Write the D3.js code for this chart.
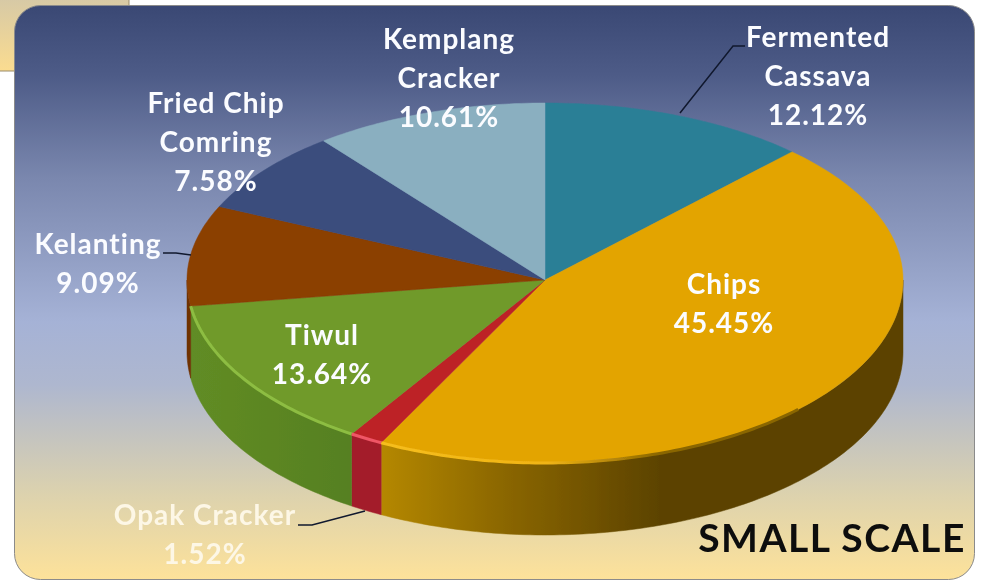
<!DOCTYPE html>
<html>
<head>
<meta charset="utf-8">
<script src="https://cdn.jsdelivr.net/npm/d3@7"></script>
<style>
  html, body { margin: 0; padding: 0; background: #fff; }
  text { font-family: Lato, "Open Sans", sans-serif; font-weight: 700; text-anchor: middle; font-variant-ligatures: none; }
</style>
</head>
<body>
<div id="container"></div>
<script>
// values, clockwise from 12 o'clock
const categories = ["Fermented Cassava", "Chips", "Opak Cracker", "Tiwul", "Kelanting", "Fried Chip Comring", "Kemplang Cracker"];
const shares = [12.12, 45.45, 1.52, 13.64, 9.09, 7.58, 10.61];
const shareLabels = ["12.12%", "45.45%", "1.52%", "13.64%", "9.09%", "7.58%", "10.61%"];
const chartTitle = "SMALL SCALE";

const topColors = ["#2c7f96", "#e3a404", "#bd2328", "#6f9a2a", "#8b3f00", "#3b4d7d", "#8aafc0"];

// label layout, in the same order as categories
const labelLayout = [
  {x: 818, y: 47, lines: ["Fermented", "Cassava"]},
  {x: 724, y: 294, lines: ["Chips"]},
  {x: 205, y: 525, lines: ["Opak Cracker"]},
  {x: 322, y: 345, lines: ["Tiwul"]},
  {x: 98, y: 254, lines: ["Kelanting"]},
  {x: 216, y: 113, lines: ["Fried Chip", "Comring"]},
  {x: 449, y: 49, lines: ["Kemplang", "Cracker"]}
];

const width = 984, height = 580;
const depth = 72;

let x = d3.scaleLinear().domain([-1, 1]).range([187, 903]);
// the front half of the disc is a little deeper than the back, the picture has perspective
let y = d3.scaleLinear().domain([-1, 0, 1]).range([103, 280, 463]);

let svg = d3.select("#container").append("svg")
  .attr("width", width)
  .attr("height", height)
  .style("display", "block");

let defs = svg.append("defs");

function addGradient(id, stops, vertical, userBox) {
  let g = defs.append("linearGradient").attr("id", id);
  if (vertical) g.attr("x1", 0).attr("x2", 0).attr("y1", 0).attr("y2", 1);
  if (userBox) {
    g.attr("gradientUnits", "userSpaceOnUse")
      .attr("x1", userBox[0]).attr("x2", userBox[1])
      .attr("y1", 0).attr("y2", 0);
  }
  g.selectAll("stop").data(stops).enter().append("stop")
    .attr("offset", function(d) { return d[0]; })
    .attr("stop-color", function(d) { return d[1]; });
}

addGradient("panelFill", [[0, "#3a4874"], [0.12, "#4d5b87"], [0.3, "#7a87ae"], [0.55, "#a5b2d6"], [0.66, "#aeb7cf"], [0.85, "#dcd2ae"], [1, "#fde29a"]], true);
addGradient("cornerFill", [[0, "#d6c9a6"], [1, "#fbdc90"]], true);
addGradient("chipsWall", [[0, "#b58800"], [0.45, "#8a6600"], [1, "#5c4300"]], false, [380, 660]);
addGradient("chipsRim", [[0, "#f6be1c"], [0.6, "#f0b415"], [1, "#8a6600"]], false, [380, 660]);
addGradient("tiwulWall", [[0, "#618c25"], [1, "#568020"]], false, [190, 350]);

let soft = defs.append("filter").attr("id", "soft");
soft.append("feGaussianBlur").attr("stdDeviation", 0.5);

// scrap of the slide behind the chart, top left
svg.append("rect")
  .attr("x", -2).attr("y", -2)
  .attr("width", 131).attr("height", 73)
  .attr("fill", "url(#cornerFill)")
  .attr("stroke", "#9a8c6a");

svg.append("rect")
  .attr("x", 14.5).attr("y", 5.5)
  .attr("width", 960).attr("height", 574)
  .attr("rx", 26)
  .attr("fill", "url(#panelFill)")
  .attr("stroke", "#8b8b8b");

let pie = d3.pie().sort(null).value(function(d) { return d; });
let slices = pie(shares);

let line = d3.line()
  .x(function(d) { return d[0]; })
  .y(function(d) { return d[1]; });

function rimPoints(a0, a1, drop) {
  let n = Math.max(2, Math.ceil((a1 - a0) * 60));
  return d3.range(n + 1).map(function(i) {
    let a = a0 + (a1 - a0) * i / n;
    return [x(Math.sin(a)), y(-Math.cos(a)) + drop];
  });
}

let chart = svg.append("g").attr("filter", "url(#soft)");

// walls only exist on the front half of the disc
let wallFills = {1: "url(#chipsWall)", 2: "#a31c2a", 3: "url(#tiwulWall)", 4: "#6f3000"};
slices.forEach(function(s, i) {
  let a0 = Math.max(s.startAngle, Math.PI / 2);
  let a1 = Math.min(s.endAngle, Math.PI * 1.5);
  if (a1 <= a0) return;
  let pts = rimPoints(a0, a1, 0).concat(rimPoints(a0, a1, depth).reverse());
  chart.append("path")
    .attr("d", line(pts) + "Z")
    .attr("fill", wallFills[i])
    .attr("stroke", wallFills[i])
    .attr("stroke-width", 0.5);
});

// top face
chart.selectAll("path.slice")
  .data(slices)
  .enter().append("path")
    .attr("class", "slice")
    .attr("d", function(d) {
      return line([[x(0), y(0)]].concat(rimPoints(d.startAngle, d.endAngle, 0))) + "Z";
    })
    .attr("fill", function(d, i) { return topColors[i]; })
    .attr("stroke", function(d, i) { return topColors[i]; })
    .attr("stroke-width", 0.5);

// light bevel along the front edge
let rimFills = {1: "url(#chipsRim)", 2: "#ef5666", 3: "#8dbd42"};
slices.forEach(function(s, i) {
  if (!rimFills[i]) return;
  let a0 = Math.max(s.startAngle, Math.PI * 0.75);
  chart.append("path")
    .attr("d", line(rimPoints(a0, s.endAngle, 0)))
    .attr("fill", "none")
    .attr("stroke", rimFills[i])
    .attr("stroke-width", 3);
});

// leader lines
let leaders = [
  [[745, 46], [733, 46], [680, 113]],
  [[163, 253], [176, 253], [191, 255]],
  [[298, 525], [312, 525], [365, 511]]
];
svg.selectAll("path.leader")
  .data(leaders)
  .enter().append("path")
    .attr("class", "leader")
    .attr("d", line)
    .attr("fill", "none")
    .attr("stroke", "#10182e")
    .attr("stroke-width", 1.5);

// labels
let labels = svg.append("g").attr("filter", "url(#soft)");
labelLayout.forEach(function(l, i) {
  let rows = l.lines.concat([shareLabels[i]]);
  labels.selectAll(null)
    .data(rows)
    .enter().append("text")
      .attr("x", l.x)
      .attr("y", function(d, j) { return l.y + j * 39; })
      .attr("font-size", 28)
      .attr("letter-spacing", 1)
      .attr("fill", i == 2 ? "#fdf7e6" : "#fbfcff")
      .text(function(d) { return d; });
});

labels.append("text")
  .attr("x", 832)
  .attr("y", 552)
  .attr("font-size", 39)
  .attr("letter-spacing", 1.5)
  .attr("fill", "#0a0a0a")
  .text(chartTitle);
</script>
</body>
</html>
